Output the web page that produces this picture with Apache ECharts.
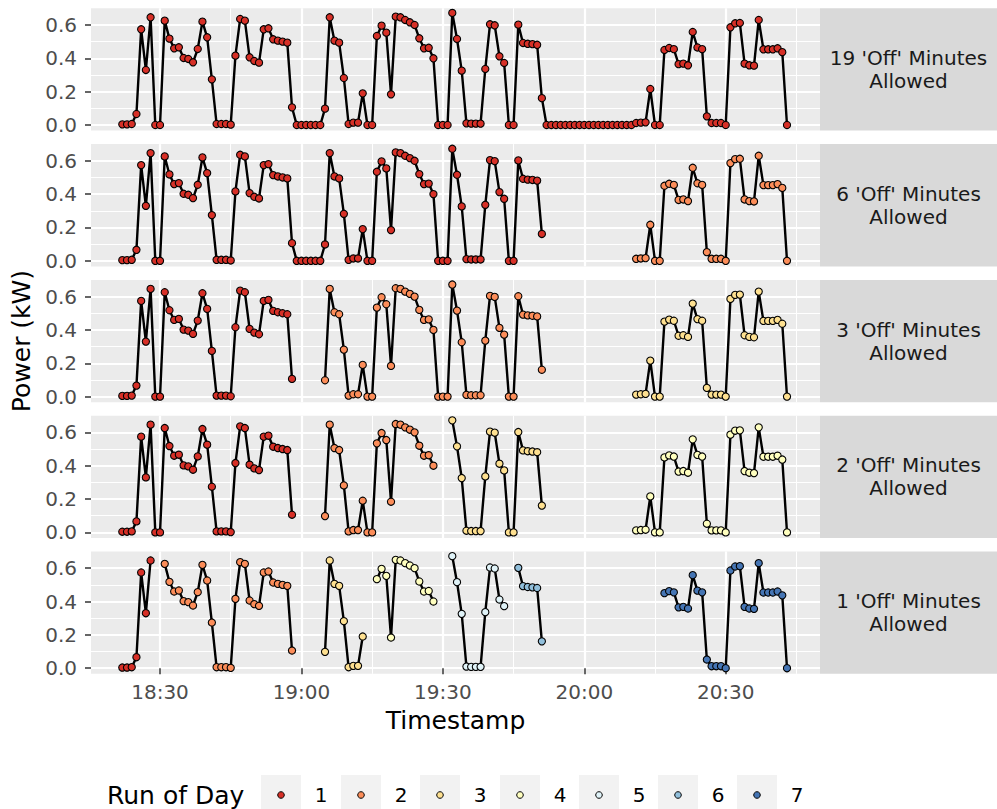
<!DOCTYPE html>
<html>
<head>
<meta charset="utf-8">
<script src="https://cdn.jsdelivr.net/npm/echarts@6/dist/echarts.min.js"></script>
<style>
html,body{margin:0;padding:0;background:#ffffff;}
#chart{width:997px;height:809px;}
</style>
</head>
<body>
<div id="chart"></div>
<script>
// ---------------- DATA ----------------
const timestamps = [
  '18:22','18:23','18:24','18:25','18:26','18:27','18:28','18:29','18:30','18:31',
  '18:32','18:33','18:34','18:35','18:36','18:37','18:38','18:39','18:40','18:41',
  '18:42','18:43','18:44','18:45','18:46','18:47','18:48','18:49','18:50','18:51',
  '18:52','18:53','18:54','18:55','18:56','18:57','18:58','18:59','19:00','19:01',
  '19:02','19:03','19:04','19:05','19:06','19:07','19:08','19:09','19:10','19:11',
  '19:12','19:13','19:14','19:15','19:16','19:17','19:18','19:19','19:20','19:21',
  '19:22','19:23','19:24','19:25','19:26','19:27','19:28','19:29','19:30','19:31',
  '19:32','19:33','19:34','19:35','19:36','19:37','19:38','19:39','19:40','19:41',
  '19:42','19:43','19:44','19:45','19:46','19:47','19:48','19:49','19:50','19:51',
  '19:52','19:53','19:54','19:55','19:56','19:57','19:58','19:59','20:00','20:01',
  '20:02','20:03','20:04','20:05','20:06','20:07','20:08','20:09','20:10','20:11',
  '20:12','20:13','20:14','20:15','20:16','20:17','20:18','20:19','20:20','20:21',
  '20:22','20:23','20:24','20:25','20:26','20:27','20:28','20:29','20:30','20:31',
  '20:32','20:33','20:34','20:35','20:36','20:37','20:38','20:39','20:40','20:41',
  '20:42','20:43'
];

const powerKW = [
  0.004, 0.004, 0.006, 0.066, 0.574, 0.33, 0.646, 0, 0, 0.626,
  0.518, 0.46, 0.466, 0.402, 0.396, 0.376, 0.456, 0.62, 0.526, 0.274,
  0.006, 0.006, 0.006, 0.002, 0.416, 0.636, 0.626, 0.406, 0.384, 0.374,
  0.574, 0.58, 0.514, 0.506, 0.5, 0.494, 0.106, 0, 0, 0,
  0, 0, 0, 0.098, 0.646, 0.506, 0.494, 0.282, 0.006, 0.014,
  0.014, 0.19, 0, 0, 0.534, 0.596, 0.554, 0.184, 0.65, 0.646,
  0.63, 0.616, 0.6, 0.52, 0.46, 0.463, 0.4, 0, 0, 0,
  0.672, 0.516, 0.326, 0.01, 0.008, 0.008, 0.008, 0.336, 0.604, 0.598,
  0.412, 0.372, 0, 0, 0.602, 0.492, 0.487, 0.485, 0.481, 0.161,
  0, 0, 0, 0, 0, 0, 0, 0, 0, 0,
  0, 0, 0, 0, 0, 0, 0, 0, 0, 0.012,
  0.014, 0.016, 0.216, 0, 0, 0.45, 0.462, 0.455, 0.365, 0.368,
  0.358, 0.558, 0.465, 0.455, 0.052, 0.012, 0.012, 0.012, 0, 0.586,
  0.61, 0.612, 0.368, 0.358, 0.356, 0.63, 0.454, 0.454, 0.454, 0.46,
  0.437, 0
];

const panelLabels = [
  "19 'Off' Minutes\nAllowed",
  "6 'Off' Minutes\nAllowed",
  "3 'Off' Minutes\nAllowed",
  "2 'Off' Minutes\nAllowed",
  "1 'Off' Minutes\nAllowed"
];

// runs shown in each panel: [first index, last index] into timestamps/powerKW; run number = position + 1
const panel19Runs = [[0, 141]];
const panel6Runs  = [[0, 89], [109, 141]];
const panel3Runs  = [[0, 36], [43, 89], [109, 141]];
const panel2Runs  = [[0, 36], [43, 66], [70, 89], [109, 141]];
const panel1Runs  = [[0, 6], [9, 36], [43, 51], [54, 66], [70, 81], [84, 89], [115, 141]];
const panelRuns = [panel19Runs, panel6Runs, panel3Runs, panel2Runs, panel1Runs];

const runLabels = ['1', '2', '3', '4', '5', '6', '7'];
const runColors = ['#D73027', '#FC8D59', '#FEE090', '#FFFFBF', '#E0F3F8', '#91BFDB', '#4575B4'];

const xTickLabels = ['18:30', '19:00', '19:30', '20:00', '20:30'];
const yTickValues = [0, 0.2, 0.4, 0.6];

// ---------------- LAYOUT / HELPERS ----------------
const FONT = 'DejaVu Sans';
const toMin = s => { const p = s.split(':'); return (+p[0] - 18) * 60 + (+p[1]); };
const fmtMin = v => { const t = Math.round(v); const h = 18 + Math.floor(t / 60); const m = t % 60; return h + ':' + (m < 10 ? '0' : '') + m; };

const X_MIN = 15.36, X_MAX = 170.0;
const Y_MIN = -0.0336, Y_MAX = 0.7;
const GRID_LEFT = 91, GRID_W = 729;
const PANEL_STEP = 135.8, PANEL_TOP0 = 8.3, PANEL_H = 122.3;

const xMajor = xTickLabels.map(toMin);
const xMinor = [];
xMajor.forEach(v => { [v - 15, v + 15].forEach(u => { if (u > X_MIN && u < X_MAX && xMinor.indexOf(u) < 0 && xMajor.indexOf(u) < 0) xMinor.push(u); }); });
xMinor.sort((a, b) => a - b);
const yMinor = [0.1, 0.3, 0.5];

const grids = [], xAxes = [], yAxes = [], series = [], graphics = [];

panelRuns.forEach((runs, p) => {
  const top = PANEL_TOP0 + PANEL_STEP * p;
  const isBottom = p === panelRuns.length - 1;
  grids.push({
    left: GRID_LEFT, top: top, width: GRID_W, height: PANEL_H,
    show: true, backgroundColor: '#EBEBEB', borderWidth: 0,
    containLabel: false, outerBoundsMode: 'none'
  });
  // major x axis
  xAxes.push({
    type: 'value', gridIndex: p, min: X_MIN, max: X_MAX, position: 'bottom',
    axisLine: { show: false },
    axisTick: { show: isBottom, customValues: xMajor, length: 6, lineStyle: { color: '#333333', width: 1.5 } },
    axisLabel: { show: isBottom, customValues: xMajor, formatter: v => fmtMin(v), color: '#4D4D4D', fontSize: 20, fontFamily: FONT, margin: 8 },
    splitLine: { show: true, lineStyle: { color: '#FFFFFF', width: 2.2 } },
    minorSplitLine: { show: false },
    name: isBottom ? 'Timestamp' : '', nameLocation: 'middle', nameGap: 34,
    nameTextStyle: { fontSize: 25, color: '#000000', fontFamily: FONT }
  });
  // minor x axis
  xAxes.push({
    type: 'value', gridIndex: p, min: X_MIN, max: X_MAX, position: 'top',
    axisLine: { show: false },
    axisTick: { show: false, customValues: xMinor },
    axisLabel: { show: false, customValues: xMinor },
    splitLine: { show: true, lineStyle: { color: '#FFFFFF', width: 1.1 } }
  });
  // major y axis
  yAxes.push({
    type: 'value', gridIndex: p, min: Y_MIN, max: Y_MAX, position: 'left',
    axisLine: { show: false },
    axisTick: { show: true, customValues: yTickValues, length: 6, lineStyle: { color: '#333333', width: 1.5 } },
    axisLabel: { show: true, customValues: yTickValues, formatter: v => v.toFixed(1), color: '#4D4D4D', fontSize: 20, fontFamily: FONT, margin: 14 },
    splitLine: { show: true, lineStyle: { color: '#FFFFFF', width: 2.2 } },
    name: p === 2 ? 'Power (kW)' : '', nameLocation: 'middle', nameGap: 57, nameRotate: 90,
    nameTextStyle: { fontSize: 25, color: '#000000', fontFamily: FONT }
  });
  // minor y axis
  yAxes.push({
    type: 'value', gridIndex: p, min: Y_MIN, max: Y_MAX, position: 'right',
    axisLine: { show: false },
    axisTick: { show: false, customValues: yMinor },
    axisLabel: { show: false, customValues: yMinor },
    splitLine: { show: true, lineStyle: { color: '#FFFFFF', width: 1.1 } }
  });

  runs.forEach((rng, r) => {
    const data = [];
    for (let k = rng[0]; k <= rng[1]; k++) data.push([toMin(timestamps[k]), powerKW[k]]);
    series.push({
      type: 'line', name: runLabels[r],
      xAxisIndex: 2 * p, yAxisIndex: 2 * p,
      data: data,
      symbol: 'circle', symbolSize: 7.2, showSymbol: true, showAllSymbol: true,
      lineStyle: { color: '#000000', width: 2.4 },
      itemStyle: { color: runColors[r], borderColor: '#000000', borderWidth: 1.1 },
      emphasis: { disabled: true },
      z: 3
    });
  });

  // facet strip
  graphics.push({
    type: 'rect', silent: true, z: 0,
    shape: { x: GRID_LEFT + GRID_W, y: top, width: 997 - (GRID_LEFT + GRID_W), height: PANEL_H },
    style: { fill: '#D9D9D9' }
  });
  graphics.push({
    type: 'text', silent: true, z: 1,
    x: (GRID_LEFT + GRID_W + 997) / 2, y: top + PANEL_H / 2,
    style: {
      text: panelLabels[p], fill: '#1A1A1A', fontSize: 20, fontFamily: FONT,
      textAlign: 'center', textVerticalAlign: 'middle', lineHeight: 23
    }
  });
});

// legend (bottom)
const LEG_Y = 795;
graphics.push({
  type: 'text', silent: true, x: 107, y: LEG_Y,
  style: { text: 'Run of Day', fill: '#000000', fontSize: 25, fontFamily: FONT, textAlign: 'left', textVerticalAlign: 'middle' }
});
const keyLefts = [261, 341, 420, 500, 579, 658, 737];
runLabels.forEach((lab, i) => {
  const x0 = keyLefts[i];
  graphics.push({ type: 'rect', silent: true, shape: { x: x0, y: LEG_Y - 20, width: 40, height: 40 }, style: { fill: '#F2F2F2' } });
  graphics.push({ type: 'circle', silent: true, shape: { cx: x0 + 20, cy: LEG_Y, r: 3.3 }, style: { fill: runColors[i], stroke: '#000000', lineWidth: 1 } });
  graphics.push({
    type: 'text', silent: true, x: x0 + 60, y: LEG_Y,
    style: { text: lab, fill: '#000000', fontSize: 20, fontFamily: FONT, textAlign: 'center', textVerticalAlign: 'middle' }
  });
});

const chart = echarts.init(document.getElementById('chart'), null, { renderer: 'svg', width: 997, height: 809 });
chart.setOption({
  animation: false,
  backgroundColor: '#FFFFFF',
  textStyle: { fontFamily: FONT },
  grid: grids,
  xAxis: xAxes,
  yAxis: yAxes,
  series: series,
  graphic: graphics,
  tooltip: { show: false }
});
</script>
</body>
</html>
